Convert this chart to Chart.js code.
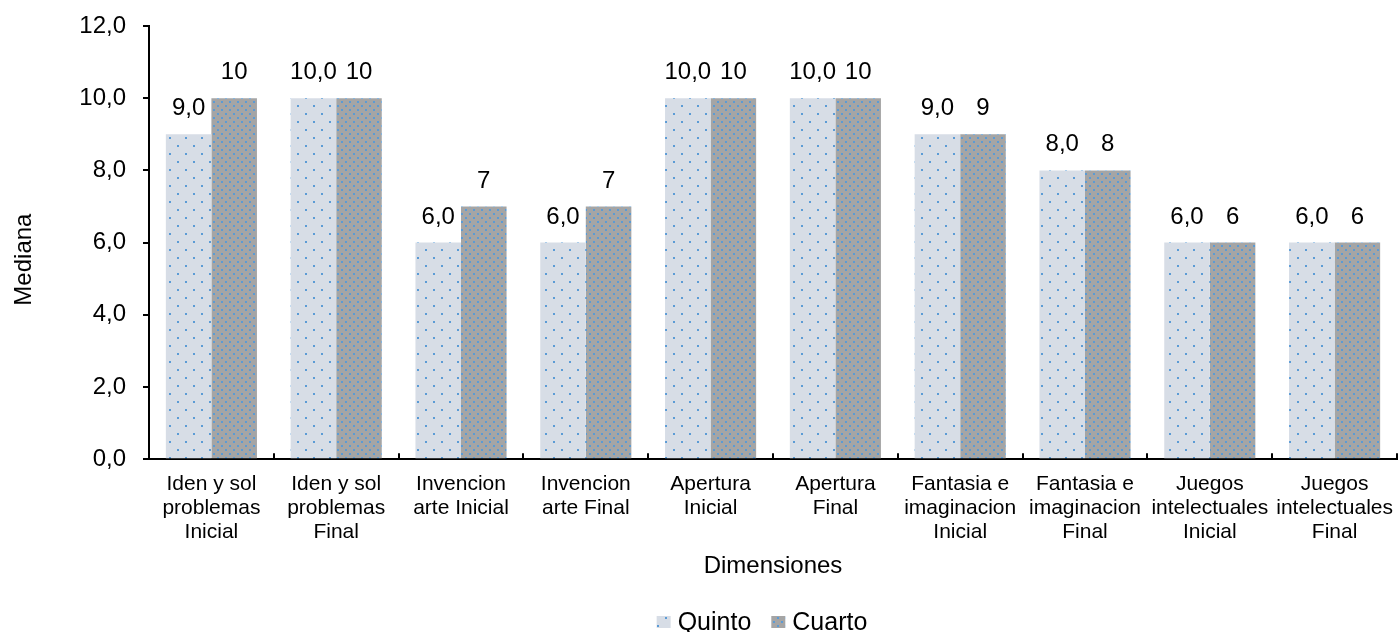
<!DOCTYPE html>
<html>
<head>
<meta charset="utf-8">
<script src="https://cdn.jsdelivr.net/npm/chart.js@4"></script>
<style>
  html, body { margin: 0; padding: 0; background: #fff; }
  #wrap { width: 1398px; height: 632px; }
</style>
</head>
<body>
<div id="wrap"><canvas id="chart" width="1398" height="632"></canvas></div>
<script>
const categories = [
  ['Iden y sol', 'problemas', 'Inicial'],
  ['Iden y sol', 'problemas', 'Final'],
  ['Invencion', 'arte Inicial'],
  ['Invencion', 'arte Final'],
  ['Apertura', 'Inicial'],
  ['Apertura', 'Final'],
  ['Fantasia e', 'imaginacion', 'Inicial'],
  ['Fantasia e', 'imaginacion', 'Final'],
  ['Juegos', 'intelectuales', 'Inicial'],
  ['Juegos', 'intelectuales', 'Final']
];
const quinto = [9, 10, 6, 6, 10, 10, 9, 8, 6, 6];
const cuarto = [10, 10, 7, 7, 10, 10, 9, 8, 6, 6];
const yTicks = [0, 2, 4, 6, 8, 10, 12];

const FONT = "'Liberation Sans', Arial, sans-serif";

// dotted fills for the two series
function dotPattern(size, bg, dot, dots, r) {
  const c = document.createElement('canvas');
  c.width = size; c.height = size;
  const g = c.getContext('2d');
  g.fillStyle = bg;
  g.fillRect(0, 0, size, size);
  g.fillStyle = dot;
  dots.forEach(([x, y]) => g.fillRect(x, y, r, r));
  return g.createPattern(c, 'repeat');
}
const quintoFill = dotPattern(16, '#d7dde6', '#5b9bd5', [[1, 1], [9, 9]], 2);
const cuartoFill = dotPattern(8, '#a5a5a5', '#5b9bd5', [[1, 1], [5, 5]], 2);

// value labels above each bar
const barLabels = {
  id: 'barLabels',
  afterDatasetsDraw(chart) {
    const ctx = chart.ctx;
    ctx.save();
    ctx.font = '24px ' + FONT;
    ctx.fillStyle = '#000';
    ctx.textAlign = 'center';
    ctx.textBaseline = 'alphabetic';
    chart.data.datasets.forEach((ds, i) => {
      chart.getDatasetMeta(i).data.forEach((bar, j) => {
        const v = ds.data[j];
        const txt = i === 0 ? v.toFixed(1).replace('.', ',') : String(v);
        ctx.fillText(txt, bar.x, bar.y - 19);
      });
    });
    ctx.restore();
  }
};

// short category separators standing up from the x axis
const xSeparators = {
  id: 'xSeparators',
  afterDraw(chart) {
    const x = chart.scales.x;
    const ctx = chart.ctx;
    const n = chart.data.labels.length;
    const step = n > 1 ? x.getPixelForTick(1) - x.getPixelForTick(0) : x.width;
    const y = chart.chartArea.bottom;
    ctx.save();
    ctx.strokeStyle = '#000';
    ctx.lineWidth = 2;
    ctx.beginPath();
    for (let i = 0; i <= n; i++) {
      const px = Math.round(x.getPixelForTick(0) - step / 2 + i * step);
      ctx.moveTo(px, y);
      ctx.lineTo(px, y - 6);
    }
    ctx.stroke();
    ctx.restore();
  }
};

// vertical axis title, sitting a little below the middle of the axis
const yTitle = {
  id: 'yTitle',
  afterDraw(chart) {
    const ctx = chart.ctx;
    const area = chart.chartArea;
    ctx.save();
    ctx.font = '24px ' + FONT;
    ctx.fillStyle = '#000';
    ctx.textAlign = 'center';
    ctx.textBaseline = 'middle';
    ctx.translate(24, (area.top + area.bottom) / 2 + 17);
    ctx.rotate(-Math.PI / 2);
    ctx.fillText('Mediana', 0, 0);
    ctx.restore();
  }
};

// legend under the axis title, small swatches close to the text
const bottomLegend = {
  id: 'bottomLegend',
  afterDraw(chart) {
    const ctx = chart.ctx;
    const area = chart.chartArea;
    const box = 14, boxH = 12, gap = 7, between = 20;
    ctx.save();
    ctx.font = '25px ' + FONT;
    const items = chart.data.datasets.map(ds => ({
      ds, w: box + gap + ctx.measureText(ds.label).width
    }));
    const total = items.reduce((s, it) => s + it.w, 0) + between * (items.length - 1);
    let x = (area.left + area.right) / 2 - 11 - total / 2;
    const y = chart.height - 10;
    ctx.textBaseline = 'middle';
    ctx.textAlign = 'left';
    items.forEach(it => {
      ctx.fillStyle = it.ds.backgroundColor;
      ctx.fillRect(x, y - boxH / 2, box, boxH);
      ctx.fillStyle = '#000';
      ctx.fillText(it.ds.label, x + box + gap, y + 1);
      x += it.w + between;
    });
    ctx.restore();
  }
};

new Chart(document.getElementById('chart'), {
  type: 'bar',
  data: {
    labels: categories,
    datasets: [
      { label: 'Quinto', data: quinto, backgroundColor: quintoFill, borderWidth: 0 },
      { label: 'Cuarto', data: cuarto, backgroundColor: cuartoFill, borderWidth: 0 }
    ]
  },
  plugins: [barLabels, xSeparators, yTitle, bottomLegend],
  options: {
    responsive: false,
    animation: false,
    devicePixelRatio: 1,
    layout: { padding: { top: 0, right: 1, left: 4, bottom: 47 } },
    datasets: { bar: { categoryPercentage: 0.73, barPercentage: 1 } },
    scales: {
      x: {
        afterFit(scale) { scale.paddingLeft = 0; scale.paddingRight = 0; },
        border: { color: '#000', width: 2 },
        grid: { display: true, drawOnChartArea: false, drawTicks: false },
        ticks: { color: '#000', font: { family: FONT, size: 21, lineHeight: 24 / 21 }, padding: 13, maxRotation: 0, autoSkip: false },
        title: { display: true, text: 'Dimensiones', color: '#000', font: { family: FONT, size: 24 }, padding: { top: -5, bottom: 4 } }
      },
      y: {
        min: 0,
        max: 12,
        afterBuildTicks(scale) { scale.ticks = yTicks.map(v => ({ value: v })); },
        afterFit(scale) { scale.width = 145; scale.paddingTop = 26; },
        border: { color: '#000', width: 2 },
        grid: { drawOnChartArea: false, tickLength: 6, color: '#000', lineWidth: 2 },
        ticks: {
          color: '#000',
          font: { family: FONT, size: 24 },
          padding: 17,
          callback: v => v.toFixed(1).replace('.', ',')
        }
      }
    },
    plugins: {
      tooltip: { enabled: false },
      legend: { display: false }
    }
  }
});
</script>
</body>
</html>
